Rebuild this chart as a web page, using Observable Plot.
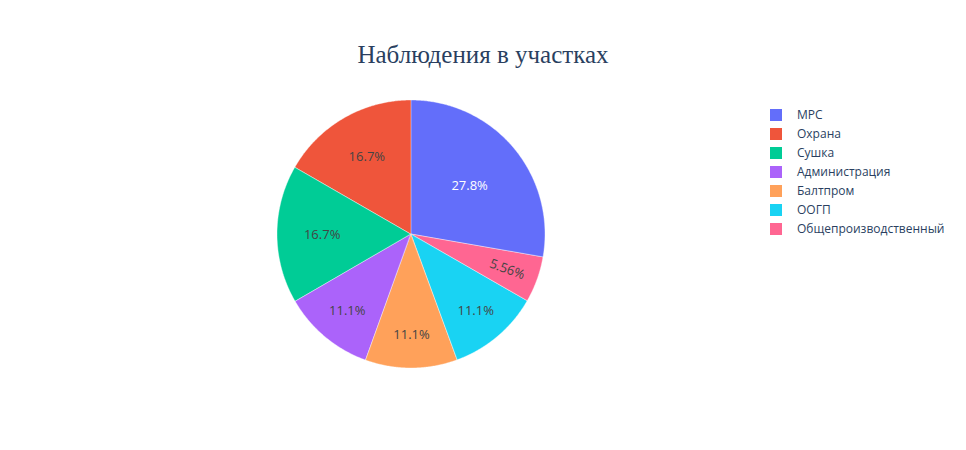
<!DOCTYPE html>
<html><head><meta charset="utf-8">
<script src="https://cdn.jsdelivr.net/npm/d3@7"></script>
<script src="https://cdn.jsdelivr.net/npm/@observablehq/plot@0.6"></script>
<style>
body{margin:0;background:#fff;}
#wrap{position:relative;width:966px;height:450px;overflow:hidden;}
#title{height:41px;padding-top:39px;width:966px;text-align:center;font-family:"Liberation Serif","Times New Roman",serif;font-size:25px;line-height:31px;color:#2a3f5f;}
#legend{position:absolute;left:770px;top:105px;font-family:"Open Sans",sans-serif;font-size:12px;color:#2a3f5f;}
.row{height:19px;display:flex;align-items:center;}
.sw{width:12px;height:12px;margin-right:15px;}
</style></head>
<body><div id="wrap"><div id="title">Наблюдения в участках</div><div id="chart"></div><div id="legend"></div></div>
<script>
const categories = ["МРС","Охрана","Сушка","Администрация","Балтпром","ООГП","Общепроизводственный"];
const counts = [5,3,3,2,2,2,1];
const colors = ["#636efa","#EF553B","#00cc96","#ab63fa","#FFA15A","#19d3f3","#FF6692"];
const titleText = "Наблюдения в участках";

const total = d3.sum(counts);
// clockwise from 12 o'clock in the drawn order
const drawOrder = ["МРС","Общепроизводственный","ООГП","Балтпром","Администрация","Сушка","Охрана"];
const slices = [];
let a0 = 0;
for (const name of drawOrder) {
  const i = categories.indexOf(name);
  const span = counts[i] / total * 2 * Math.PI;
  slices.push({name, value: counts[i], color: colors[i], a0, a1: a0 + span});
  a0 += span;
}
const pts = [];
for (const s of slices) {
  const n = Math.max(2, Math.ceil((s.a1 - s.a0) / (Math.PI / 360)));
  for (let k = 0; k <= n; k++) {
    const a = s.a0 + (s.a1 - s.a0) * k / n;
    pts.push({name: s.name, x1: 0, y1: 0, x2: Math.sin(a), y2: Math.cos(a)});
  }
}
function fmt(v){ return d3.format(".3r")(v/total*100) + "%"; }
const labels = slices.map(s => {
  const half = (s.a1 - s.a0) / 2, mid = s.a0 + half;
  const frac = s.value / total;
  let d, rot = 0;
  if (frac < 0.08) { d = 0.76; rot = mid * 180 / Math.PI - 90; }
  else { d = 1 - 1 / (1 + 1 / Math.sin(half)); }
  const c = d3.rgb(s.color);
  const bright = (c.r*299 + c.g*587 + c.b*114) / 1000;
  return {name: s.name, x: d*Math.sin(mid), y: d*Math.cos(mid), text: fmt(s.value), rot, light: bright >= 128};
});

const chart = Plot.plot({
  width: 966, height: 370,
  marginLeft: 277, marginRight: 421, marginTop: 20, marginBottom: 82,
  x: {domain: [-1, 1], axis: null},
  y: {domain: [-1, 1], axis: null},
  color: {domain: categories, range: colors},
  style: {fontFamily: "'Open Sans', sans-serif", fontSize: "13px", background: "white"},
  marks: [
    Plot.area(pts, {x1: "x1", y1: "y1", x2: "x2", y2: "y2", z: "name", fill: "name", stroke: "white", strokeWidth: 0.4}),
    Plot.text(labels.filter(d => d.light), {x: "x", y: "y", text: "text", rotate: "rot", fill: "#444", fontSize: 13}),
    Plot.text(labels.filter(d => !d.light), {x: "x", y: "y", text: "text", rotate: "rot", fill: "white", fontSize: 13})
  ]
});
document.getElementById("chart").appendChild(chart);

const leg = d3.select("#legend");
categories.forEach((c, i) => {
  const r = leg.append("div").attr("class", "row");
  r.append("div").attr("class", "sw").style("background", colors[i]);
  r.append("span").text(c);
});
</script></body></html>
